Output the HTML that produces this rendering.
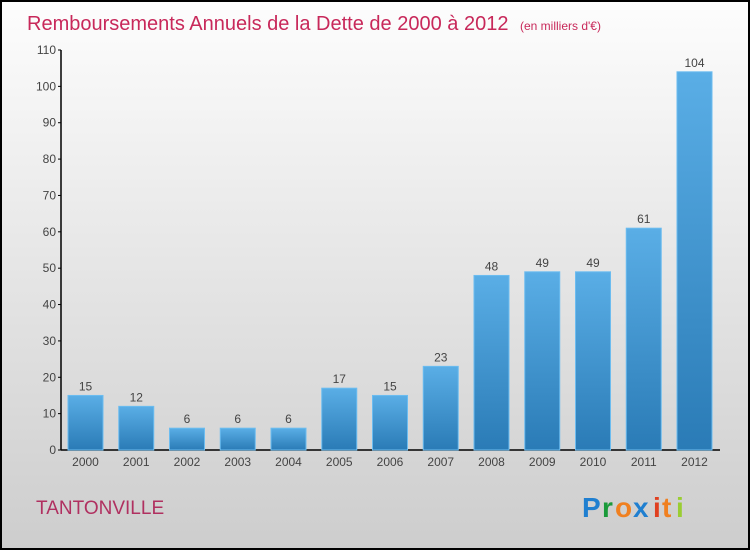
<!DOCTYPE html>
<html><head><meta charset="utf-8"><style>
body{margin:0;width:750px;height:550px;overflow:hidden;font-family:"Liberation Sans",sans-serif}
</style></head><body>
<svg width="750" height="550" xmlns="http://www.w3.org/2000/svg">
<defs>
<linearGradient id="bg" x1="0" y1="0" x2="0" y2="1"><stop offset="0" stop-color="#fdfdfd"/><stop offset="1" stop-color="#cdcdcd"/></linearGradient>
<linearGradient id="bar" x1="0" y1="0" x2="0" y2="1"><stop offset="0" stop-color="#5aaee6"/><stop offset="1" stop-color="#2a7bb6"/></linearGradient>
</defs>
<rect x="1" y="1" width="748" height="548" fill="url(#bg)" stroke="#000" stroke-width="2"/>
<text x="27" y="30" font-size="20" fill="#c8285a">Remboursements Annuels de la Dette de 2000 à 2012 <tspan font-size="12" dx="6">(en milliers d'€)</tspan></text>
<text x="36" y="514" font-size="19" fill="#b03060">TANTONVILLE</text>
<g font-size="28" font-weight="bold">
<text x="582" y="517" fill="#1f7fd0">P</text><text x="602" y="517" fill="#1a9a3a">r</text><text x="615" y="517" fill="#f08020">o</text><text x="633" y="517" fill="#1f7fd0">x</text><text x="653" y="517" fill="#e04020">i</text><text x="662" y="517" fill="#f08020">t</text><text x="676" y="517" fill="#9acd32">i</text>
</g>
<g id="axes"></g>
<g id="bars"></g>
</svg>
<script>
const categories=["2000","2001","2002","2003","2004","2005","2006","2007","2008","2009","2010","2011","2012"];
const values=[15,12,6,6,6,17,15,23,48,49,49,61,104];
const yTicks=[0,10,20,30,40,50,60,70,80,90,100,110];
const NS="http://www.w3.org/2000/svg";
const y0=450,yTop=50,yMax=110;
const yScale=v=>y0-(v/yMax)*(y0-yTop);
const xStart=68,step=50.75,bw=35;
const xScale=i=>xStart+i*step;
function mk(t,a,p){const e=document.createElementNS(NS,t);for(const k in a)e.setAttribute(k,a[k]);p.appendChild(e);return e;}
const ax=document.getElementById('axes'),bg=document.getElementById('bars');
let l=mk('line',{x1:61,y1:yTop,x2:61,y2:y0,stroke:'#000','stroke-width':1.5},ax);


l=mk('line',{x1:61,y1:y0,x2:720,y2:y0,stroke:'#000','stroke-width':1.5},ax);


yTicks.forEach(v=>{const y=yScale(v);
mk('line',{x1:58,y1:y,x2:61,y2:y,stroke:'#000'},ax);
const t=mk('text',{x:56,y:y+4,'font-size':12,fill:'#444','text-anchor':'end'},ax);t.textContent=v;

});
categories.forEach((c,i)=>{const x=xScale(i),v=values[i],y=yScale(v);
const r=mk('rect',{x:x,y:y,width:bw,height:y0-y,fill:'url(#bar)',stroke:'#6bbcf0','stroke-width':1},bg);


const t=mk('text',{x:x+bw/2,y:y-5,'font-size':12,fill:'#444','text-anchor':'middle'},bg);t.textContent=v;


const xl=mk('text',{x:x+bw/2,y:466,'font-size':12,fill:'#444','text-anchor':'middle'},bg);xl.textContent=c;

});
</script>
</body></html>
